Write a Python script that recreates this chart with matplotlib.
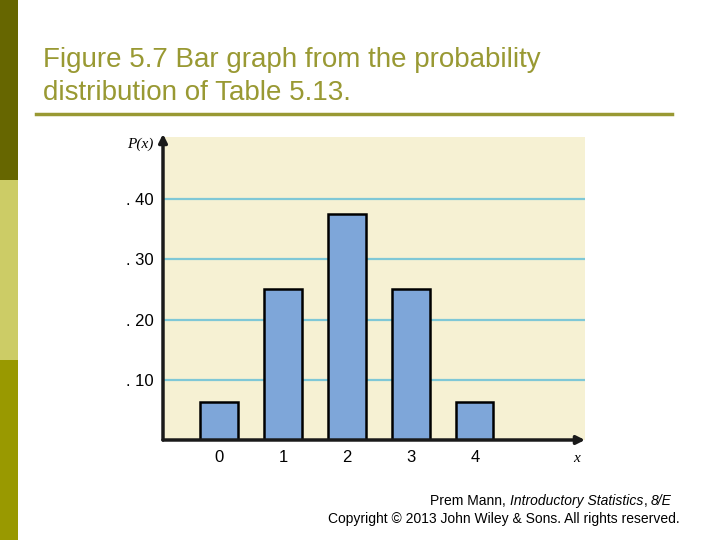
import numpy as np
import matplotlib.pyplot as plt
import matplotlib.patches as patches

# probability distribution of Table 5.13
x_values = [0, 1, 2, 3, 4]
probs = [0.0625, 0.25, 0.375, 0.25, 0.0625]
y_ticks = [0.10, 0.20, 0.30, 0.40]
y_labels = ['. 10', '. 20', '. 30', '. 40']

fig = plt.figure(figsize=(7.2, 5.4), dpi=100)
fig.set_facecolor('white')

# left colour strip of the slide
strip_colors = ['#666600', '#cccc66', '#999900']
for i, c in enumerate(strip_colors):
    fig.add_artist(patches.Rectangle((0, 1 - (i + 1) / 3), 18 / 720, 1 / 3,
                                     transform=fig.transFigure, color=c, lw=0))

fig.text(43 / 720, 1 - 60 / 540, 'Figure 5.7 Bar graph from the probability',
         fontsize=20, color='#999933', va='center', ha='left', family='Liberation Sans')
fig.text(43 / 720, 1 - 93 / 540, 'distribution of Table 5.13.',
         fontsize=20, color='#999933', va='center', ha='left', family='Liberation Sans')
fig.add_artist(plt.Line2D([36 / 720, 672 / 720], [1 - 114 / 540, 1 - 114 / 540],
                          color='#999933', lw=2.5, transform=fig.transFigure))

ax = fig.add_axes([163 / 720, 1 - 440 / 540, 422 / 720, 303 / 540])
ax.set_facecolor('#f6f1d3')
ax.set_xlim(-0.875, 5.72)
ax.set_ylim(0, 0.503)

for t in y_ticks:
    ax.axhline(t, color='#7fc8d6', lw=1.6, zorder=1)

ax.bar(x_values, probs, width=0.58, color='#7ea6d9', edgecolor='black',
       linewidth=1.8, zorder=2)

for s in ax.spines.values():
    s.set_visible(False)

ax.set_yticks(y_ticks)
ax.set_yticklabels(y_labels, family='Liberation Sans', fontsize=12)
ax.set_xticks(x_values)
ax.set_xticklabels([str(v) for v in x_values], family='Liberation Sans', fontsize=12)
ax.tick_params(length=0, pad=7)

# axes with arrow heads
ax.annotate('', xy=(0, 1.01), xytext=(0, 0), xycoords='axes fraction',
            arrowprops=dict(arrowstyle='-|>', color='#1a1a1a', lw=2.5,
                            mutation_scale=12, shrinkA=0, shrinkB=0),
            annotation_clip=False)
ax.annotate('', xy=(1.0, 0), xytext=(0, 0), xycoords='axes fraction',
            arrowprops=dict(arrowstyle='-|>', color='#1a1a1a', lw=2.5,
                            mutation_scale=12, shrinkA=0, shrinkB=0),
            annotation_clip=False)

ax.text(-0.055, 0.975, 'P(x)', transform=ax.transAxes, ha='center', va='center',
        fontsize=11, family='Liberation Serif', style='italic')
ax.text(0.98, -0.06, 'x', transform=ax.transAxes, ha='center', va='center',
        fontsize=11, family='Liberation Serif', style='italic')

# footer, built from plain and italic pieces
r = fig.canvas.get_renderer()
pieces = [('Prem Mann, ', 'normal'), ('Introductory Statistics', 'italic'),
          (', ', 'normal'), ('8/E', 'italic')]
xpos = 672
for txt, st in reversed(pieces):
    t = fig.text(xpos / 720, 1 - 501 / 540, txt, fontsize=10, ha='right',
                 va='center', family='Liberation Sans', style=st)
    xpos -= t.get_window_extent(renderer=r).width
fig.text(680 / 720, 1 - 519 / 540,
         'Copyright © 2013 John Wiley & Sons. All rights reserved.',
         fontsize=10, ha='right', va='center', family='Liberation Sans')

plt.savefig('out.png', dpi=100, facecolor=fig.get_facecolor())
